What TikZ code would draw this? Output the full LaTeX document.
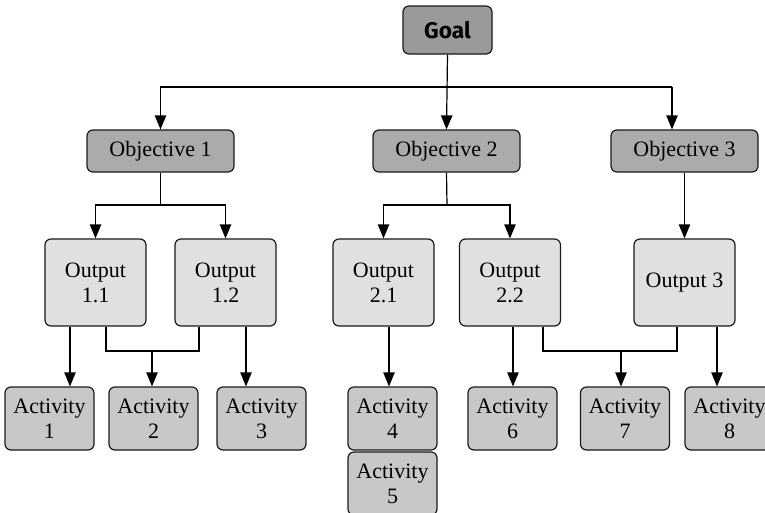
\documentclass[tikz,border=0pt]{standalone}
\usepackage{fontspec}
\setmainfont{Liberation Serif}
\newfontfamily\goalfont{Fira Sans}
\usetikzlibrary{arrows.meta}
\definecolor{goalgray}{HTML}{9A9A9A}
\definecolor{objgray}{HTML}{ABABAB}
\definecolor{outgray}{HTML}{E0E0E0}
\definecolor{actgray}{HTML}{C8C8C8}
\definecolor{edge}{HTML}{1A1A1A}
\begin{document}
\begin{tikzpicture}[x=0.75pt,y=-0.75pt,
  box/.style={draw=edge, line width=0.9pt, rounded corners=4.5pt, align=center,
    inner sep=0pt, font=\fontsize{16.5}{18.75}\selectfont},
  goalbox/.style={box, fill=goalgray, minimum width=66.75pt, minimum height=36pt,
    font=\goalfont\bfseries\fontsize{17}{20}\selectfont},
  objbox/.style={box, fill=objgray, minimum width=110.25pt, minimum height=31.5pt},
  outbox/.style={box, fill=outgray, minimum width=75.75pt, minimum height=65.25pt},
  actbox/.style={box, fill=actgray, minimum width=66.75pt, minimum height=47.25pt},
  link/.style={draw=black, line width=0.9pt},
  arr/.style={link, -{Triangle[length=10.5pt,width=8.5pt]}}
]
\clip (0,0) rectangle (765,512);

% top level
\node[goalbox] (g) at (447.5,30) {Goal};

% objectives
\node[objbox] (o1) at (160.5,151) {Objective 1};
\node[objbox] (o2) at (446.5,151) {Objective 2};
\node[objbox] (o3) at (684.5,151) {Objective 3};

% outputs
\node[outbox] (u11) at (95.5,282.5)  {Output\\1.1};
\node[outbox] (u12) at (225.5,282.5) {Output\\1.2};
\node[outbox] (u21) at (383.5,282.5) {Output\\2.1};
\node[outbox] (u22) at (510,282.5)   {Output\\2.2};
\node[outbox] (u3)  at (684.5,282.5) {Output 3};

% activities
\node[actbox] (a1) at (49.5,418.5)  {Activity\\1};
\node[actbox] (a2) at (153.5,418.5) {Activity\\2};
\node[actbox] (a3) at (261.5,418.5) {Activity\\3};
\node[actbox] (a4) at (392.5,418.5) {Activity\\4};
\node[actbox] (a5) at (392.5,483.5) {Activity\\5};
\node[actbox] (a6) at (512.5,418.5) {Activity\\6};
\node[actbox] (a7) at (625,418.5)   {Activity\\7};
\node[actbox] (a8) at (729.5,418.5) {Activity\\8};

% helper positions for bus lines and drop points
\coordinate (bus0) at (447,87);
\coordinate (t3)   at (672,87);
\coordinate (bus1) at (160.5,205);
\coordinate (bus2) at (447,205);
\coordinate (x1)   at (70,0);
\coordinate (x2a)  at (106,0);
\coordinate (x2b)  at (199,0);
\coordinate (x2)   at (152,0);
\coordinate (x3)   at (246,0);
\coordinate (x4)   at (389,0);
\coordinate (x6)   at (513,0);
\coordinate (x7a)  at (543,0);
\coordinate (x7b)  at (677,0);
\coordinate (x7)   at (621,0);
\coordinate (x8)   at (717,0);
\coordinate (y1)   at (0,351);

% goal to objectives
\draw[arr] (g.south) -- (o2.north);
\draw[arr] (bus0) -| (o1.north);
\draw[link] (bus0) -- (t3);
\draw[arr] (t3) -- (t3 |- o3.north);

% objectives to outputs
\draw[arr] (o1.south) -- (bus1) -| (u11.north);
\draw[arr] (bus1) -| (u12.north);
\draw[link] (o2.south) -- (bus2);
\draw[arr] (bus2) -| (u21.north);
\draw[arr] (bus2) -| (u22.north);
\draw[arr] (o3.south) -- (u3.north);

% outputs to activities
\draw[arr] (u11.south -| x1) -- (a1.north -| x1);
\draw[link] (u11.south -| x2a) |- (y1 -| x2b) -- (u12.south -| x2b);
\draw[arr] (y1 -| x2) -- (a2.north -| x2);
\draw[arr] (u12.south -| x3) -- (a3.north -| x3);
\draw[arr] (u21.south -| x4) -- (a4.north -| x4);
\draw[arr] (u22.south -| x6) -- (a6.north -| x6);
\draw[link] (u22.south -| x7a) |- (y1 -| x7b) -- (u3.south -| x7b);
\draw[arr] (y1 -| x7) -- (a7.north -| x7);
\draw[arr] (u3.south -| x8) -- (a8.north -| x8);
\end{tikzpicture}
\end{document}
